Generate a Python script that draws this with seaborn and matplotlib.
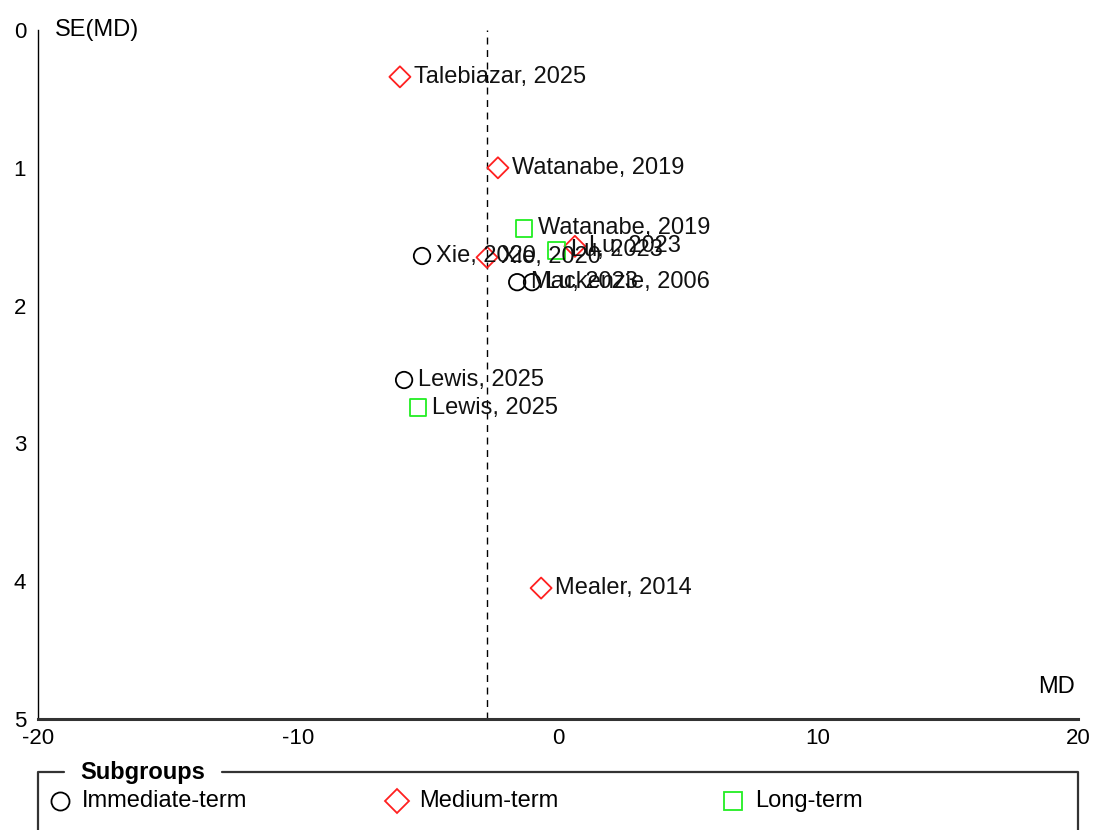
import matplotlib
matplotlib.use("Agg")
import matplotlib.pyplot as plt
import seaborn as sns
import pandas as pd
from matplotlib.lines import Line2D

# Study-level estimates: mean difference and its standard error
studies = ["Talebiazar, 2025", "Watanabe, 2019", "Watanabe, 2019", "Xie, 2020",
           "Xie, 2020", "Lu, 2023", "Lu, 2023", "Mackenzie, 2006", "Lu, 2023",
           "Lewis, 2025", "Lewis, 2025", "Mealer, 2014"]
md = [-6.08, -2.31, -1.31, -5.23, -2.73, -0.05, 0.65, -1.57, -1.0,
      -5.92, -5.38, -0.65]
se = [0.34, 1.00, 1.44, 1.64, 1.65, 1.60, 1.57, 1.83, 1.83,
      2.54, 2.74, 4.05]
subgroup = ["Medium-term", "Medium-term", "Long-term", "Immediate-term",
            "Medium-term", "Long-term", "Medium-term", "Immediate-term",
            "Immediate-term", "Immediate-term", "Long-term", "Medium-term"]

pooled_md = -2.73

groups = ["Immediate-term", "Medium-term", "Long-term"]
group_colors = ["black", "#ff2020", "#22ee22"]
group_markers = ["o", "D", "s"]
group_sizes = [140, 115, 140]

df = pd.DataFrame({"study": studies, "md": md, "se": se, "subgroup": subgroup})

sns.set_style("white")
plt.rcParams["font.family"] = ["Liberation Sans", "DejaVu Sans"]
plt.rcParams["text.color"] = "black"
plt.rcParams["axes.unicode_minus"] = False

fig = plt.figure(figsize=(10.94, 8.30), dpi=100)
ax = fig.add_axes([38 / 1094, 1 - 719 / 830, 1040 / 1094, 689 / 830])

for g, col, mk, sz in zip(groups, group_colors, group_markers, group_sizes):
    sub = df[df["subgroup"] == g]
    sns.scatterplot(data=sub, x="md", y="se", marker=mk, s=sz, ax=ax,
                    legend=False, zorder=3)
    coll = ax.collections[-1]
    coll.set_facecolor("none")
    coll.set_edgecolor(col)
    coll.set_linewidth(1.3)

# Study labels to the right of each point
for _, r in df.iterrows():
    ax.annotate(r["study"], (r["md"], r["se"]), xytext=(10, 0),
                textcoords="offset points", va="center", ha="left",
                fontsize=17, color="#111111", zorder=4)

# Pooled estimate
ax.axvline(pooled_md, color="black", linestyle=(0, (5, 4)), linewidth=1.0, zorder=1)

ax.set_xlim(-20, 20)
ax.set_ylim(5, 0)
ax.set_xticks([-20, -10, 0, 10, 20])
ax.set_yticks([0, 1, 2, 3, 4, 5])
ax.set_xlabel("")
ax.set_ylabel("")
for s in ["top", "right"]:
    ax.spines[s].set_visible(False)
ax.spines["left"].set_color("black")
ax.spines["left"].set_linewidth(1.0)
ax.spines["bottom"].set_color("#333333")
ax.spines["bottom"].set_linewidth(2.2)
ax.tick_params(axis="both", direction="inout", length=11, width=1.0,
               colors="black", labelsize=16, pad=1)
ax.tick_params(axis="y", pad=3)

ax.text(0.016, 1.0, "SE(MD)", transform=ax.transAxes, fontsize=17,
        va="center", ha="left")
ax.text(0.997, 0.03, "MD", transform=ax.transAxes, fontsize=17,
        va="bottom", ha="right")

# Subgroup legend box under the plot, title set into the frame line
box_top = 1 - 772 / 830
left = 38 / 1094
right = 1078 / 1094
fig.add_artist(Line2D([left, left, 64 / 1094], [0, box_top, box_top],
                      transform=fig.transFigure, color="#333333", lw=1.6))
fig.add_artist(Line2D([222 / 1094, right, right], [box_top, box_top, 0],
                      transform=fig.transFigure, color="#333333", lw=1.6))
fig.text(143 / 1094, box_top, "Subgroups", fontsize=17, fontweight="bold",
         ha="center", va="center")

leg_y = 1 - 801 / 830
leg_x = [60 / 1094, 397 / 1094, 733 / 1094]
leg_ms = [13, 12, 13]
for g, col, mk, x0, ms in zip(groups, group_colors, group_markers, leg_x, leg_ms):
    fig.add_artist(Line2D([x0], [leg_y], transform=fig.transFigure,
                          marker=mk, markersize=ms, markerfacecolor="none",
                          markeredgecolor=col, markeredgewidth=1.3, linestyle="none"))
    fig.text(x0 + 22 / 1094, leg_y, g, fontsize=17, ha="left", va="center")

fig.savefig("out.png", dpi=100)
